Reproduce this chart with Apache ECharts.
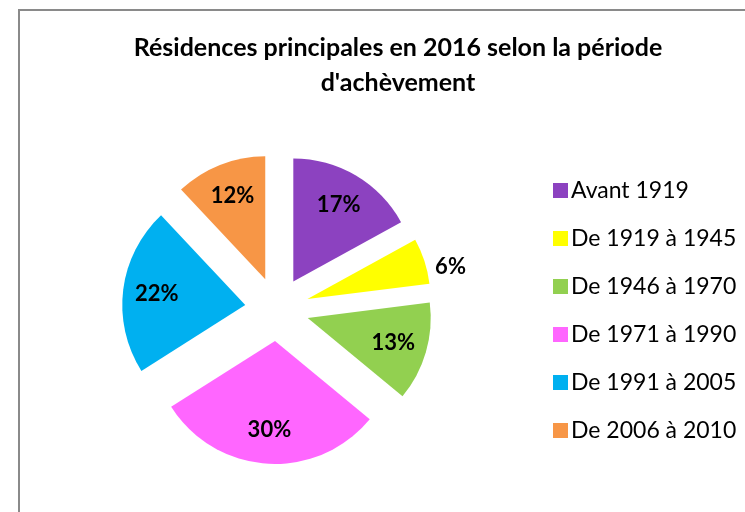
<!DOCTYPE html>
<html>
<head>
<meta charset="utf-8">
<script src="https://cdn.jsdelivr.net/npm/echarts@6/dist/echarts.min.js"></script>
<style>
  html, body { margin: 0; padding: 0; background: #fff; }
  #chart { width: 745px; height: 512px; }
</style>
</head>
<body>
<div id="chart"></div>
<script>
// périodes d'achèvement et parts (%)
var periodes = ['Avant 1919', 'De 1919 à 1945', 'De 1946 à 1970', 'De 1971 à 1990', 'De 1991 à 2005', 'De 2006 à 2010'];
var parts = [17, 6, 13, 30, 22, 12];
var couleurs = ['#8C42C0', '#FFFF00', '#92D050', '#FF66FF', '#00B0F0', '#F79646'];

var centre = [277, 309];
var rayon = 123;

var pieData = periodes.map(function (p, i) {
    return { name: p, value: parts[i], selected: true, itemStyle: { color: couleurs[i] } };
});

var labelData = periodes.map(function (p, i) {
    var item = { name: p, value: parts[i], selected: true };
    if (parts[i] < 10) {
        // petite part : étiquette à l'extérieur
        item.label = { position: 'outside' };
        item.labelLine = { show: false, length: 6, length2: 0 };
    }
    return item;
});

var chart = echarts.init(document.getElementById('chart'));

var option = {
    animation: false,
    title: {
        text: 'Résidences principales en 2016 selon la période\nd\'achèvement',
        left: 393,
        textAlign: 'center',
        top: 25,
        textStyle: {
            fontFamily: 'Lato',
            fontWeight: 'bold',
            fontSize: 25,
            lineHeight: 35,
            color: '#000'
        }
    },
    legend: {
        orient: 'vertical',
        left: 548,
        top: 174,
        icon: 'rect',
        itemWidth: 15,
        itemHeight: 15,
        itemGap: 25,
        selectedMode: false,
        textStyle: { fontFamily: 'Lato', fontSize: 23, color: '#000', padding: [0, 0, 0, -2] },
        data: periodes.map(function (p, i) {
            return { name: p, itemStyle: { color: couleurs[i], opacity: 1 } };
        })
    },
    graphic: [{
        type: 'polyline',
        shape: { points: [[19, 512], [19, 10], [745, 10]] },
        style: { stroke: '#8a8a8a', lineWidth: 2, fill: null },
        silent: true
    }],
    series: [
        {
            name: 'parts',
            type: 'pie',
            center: centre,
            radius: [0, rayon],
            selectedMode: 'multiple',
            selectedOffset: 32,
            label: { show: false },
            labelLine: { show: false },
            emphasis: { disabled: true },
            select: { itemStyle: { borderWidth: 0 } },
            data: pieData
        },
        {
            name: 'etiquettes',
            type: 'pie',
            center: centre,
            radius: [rayon * 0.4, rayon],
            selectedMode: 'multiple',
            selectedOffset: 32,
            silent: true,
            itemStyle: { color: 'rgba(0,0,0,0)' },
            label: {
                show: true,
                position: 'inside',
                formatter: '{c}%',
                fontFamily: 'Lato',
                fontWeight: 'bold',
                fontSize: 22,
                color: '#000'
            },
            labelLine: { show: false },
            labelLayout: function (params) {
                return parts[params.dataIndex] < 10 ? { dy: 8 } : {};
            },
            emphasis: { disabled: true },
            data: labelData
        }
    ]
};

chart.setOption(option);
</script>
</body>
</html>
